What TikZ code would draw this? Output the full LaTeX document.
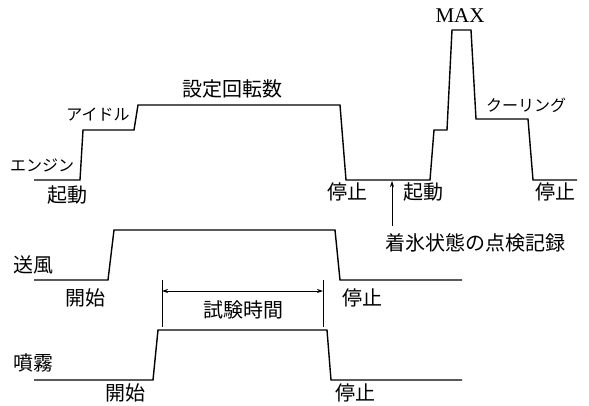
\documentclass[tikz,border=0pt]{standalone}
\usepackage{fontspec}
\newfontfamily\jp{Noto Sans CJK JP}
\newfontfamily\lserif{Liberation Serif}
\usetikzlibrary{arrows.meta}
\begin{document}
\begin{tikzpicture}[x=1pt,y=-1pt,
 wave/.style={line width=1.4pt, line join=miter},
 kanji/.style={font=\jp\fontsize{20}{22}\selectfont, inner sep=0pt},
 kana/.style={font=\jp\fontsize{16}{18}\selectfont, inner sep=0pt},
 latin/.style={font=\lserif\fontsize{21}{24}\selectfont, inner sep=0pt},
 dim/.style={line width=0.7pt},
 tip/.style={-{Stealth[length=6pt,width=4pt]}},
 tips/.style={{Stealth[length=6pt,width=4pt]}-{Stealth[length=6pt,width=4pt]}}]
\useasboundingbox (0,0) rectangle (589,405);
% engine wave
\draw[wave] (34,180)--(80,180)--(83,130)--(134,130)--(138,105)--(340,105)--(346,180)--(430,180)--(434,130)--(447,130)--(452,30)--(471,30)--(476,119)--(528,119)--(533,180)--(577,180);
% blower wave
\draw[wave] (34,280)--(108,280)--(114,230)--(335,230)--(340,280)--(462,280);
% spray wave
\draw[wave] (34,380)--(153,380)--(158,330)--(327,330)--(331,380)--(462,380);
% engine labels
\node[kana] (eng) at (42,165) {エンジン};
\node[kanji] (st1) at (67,195) {起動};
\node[kana] (idle) at (98,115) {アイドル};
\node[kanji] (rated) at (232,89) {設定回転数};
\node[kanji] (sp1) at (347,192) {停止};
\node[kanji] (st2) at (423,192) {起動};
\node[kanji] (sp2) at (555,192) {停止};
\node[latin] (max) at (460,16) {MAX};
\node[kana] (cool) at (526,105) {クーリング};
\node[kanji] (note) at (475,243) {着氷状態の点検記録};
\coordinate (ck) at (392,181);
\draw[dim,tip] ([yshift=8pt]note.north -| ck) -- (ck);
% blower labels
\node[kanji] (blow) at (33,265) {送風};
\node[kanji] (bst) at (85,298) {開始};
\node[kanji] (bsp) at (362,298) {停止};
% test time
\coordinate (ta) at (162,280);
\coordinate (tb) at (323,280);
\draw[dim] (ta) -- ++(0,47);
\draw[dim] (tb) -- ++(0,47);
\draw[dim,tips] ([yshift=-11pt]ta) -- ([yshift=-11pt]tb);
\node[kanji] (ttime) at (243,310) {試験時間};
% spray labels
\node[kanji] (spr) at (33,363) {噴霧};
\node[kanji] (sst) at (125,393) {開始};
\node[kanji] (ssp) at (355,393) {停止};
\end{tikzpicture}
\end{document}
